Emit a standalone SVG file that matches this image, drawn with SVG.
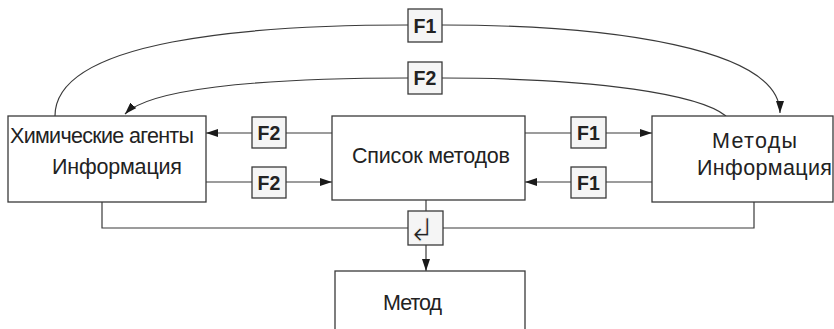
<svg xmlns="http://www.w3.org/2000/svg" width="834" height="329" viewBox="0 0 834 329">
  <style>
    .box { fill: #ffffff; stroke: #3a3a3a; stroke-width: 1.3; }
    .tag { fill: #f5f5f5; stroke: #3a3a3a; stroke-width: 1.3; }
    .line { fill: none; stroke: #3a3a3a; stroke-width: 1.2; }
    .label { font-family: "Liberation Sans", Arial, sans-serif; font-size: 21.5px; fill: #222; }
    .tagtext { font-family: "Liberation Sans", Arial, sans-serif; font-size: 19.5px; font-weight: bold; fill: #222; text-anchor: middle; }
  </style>
  <defs>
    <marker id="arrow" viewBox="0 0 12 8" refX="12" refY="4" markerWidth="12" markerHeight="8" markerUnits="userSpaceOnUse" orient="auto">
      <path d="M0,0 L12,4 L0,8 Z" fill="#1a1a1a"/>
    </marker>
  </defs>

  <rect width="834" height="329" fill="#ffffff"/>

  <!-- connectors -->
  <g id="connectors">
    <!-- top sweep F1: left box to right box -->
    <path class="line" d="M55,116 C55,40 250,25 408,25"/>
    <path class="line" marker-end="url(#arrow)" d="M442,25 C610,25 780,48 780,113"/>
    <!-- top sweep F2: right box to left box -->
    <path class="line" d="M726,116 C700,95 600,78 442,78"/>
    <path class="line" marker-end="url(#arrow)" d="M408,78 C250,78 148,90 125,114"/>

    <!-- middle list to left box (F2) -->
    <path class="line" d="M332,133 H286"/>
    <path class="line" marker-end="url(#arrow)" d="M252,133 H206"/>
    <!-- left box to middle list (F2) -->
    <path class="line" d="M206,182 H252"/>
    <path class="line" marker-end="url(#arrow)" d="M286,182 H332"/>
    <!-- middle list to right box (F1) -->
    <path class="line" d="M525,133 H571"/>
    <path class="line" marker-end="url(#arrow)" d="M606,133 H652"/>
    <!-- right box to middle list (F1) -->
    <path class="line" d="M652,182 H606"/>
    <path class="line" marker-end="url(#arrow)" d="M571,182 H525"/>

    <!-- bottom bus into the merge -->
    <path class="line" d="M102,202 V228 H754 V202"/>
    <path class="line" d="M426,200 V211"/>
    <path class="line" marker-end="url(#arrow)" d="M426,245 V271"/>
  </g>

  <!-- tags on connectors -->
  <g id="tag-f1-top">
    <rect class="tag" x="408" y="9" width="34" height="33"/>
    <text class="tagtext" x="425" y="32.5">F1</text>
  </g>
  <g id="tag-f2-top">
    <rect class="tag" x="408" y="62" width="34" height="32"/>
    <text class="tagtext" x="425" y="85">F2</text>
  </g>
  <g id="tag-f2-upper">
    <rect class="tag" x="252" y="117" width="34" height="31"/>
    <text class="tagtext" x="269" y="139.5">F2</text>
  </g>
  <g id="tag-f2-lower">
    <rect class="tag" x="252" y="167" width="34" height="31"/>
    <text class="tagtext" x="269" y="189.5">F2</text>
  </g>
  <g id="tag-f1-upper">
    <rect class="tag" x="571" y="117" width="35" height="31"/>
    <text class="tagtext" x="588.5" y="139.5">F1</text>
  </g>
  <g id="tag-f1-lower">
    <rect class="tag" x="571" y="167" width="35" height="31"/>
    <text class="tagtext" x="588.5" y="189.5">F1</text>
  </g>
  <g id="merge">
    <rect class="tag" x="408" y="211" width="35" height="34"/>
    <!-- light stroke over the fill thins the glyph -->
    <text x="422" y="241" font-family="'DejaVu Sans', sans-serif" font-size="32" fill="#222" stroke="#f5f5f5" stroke-width="0.9" paint-order="fill" text-anchor="middle">↲</text>
  </g>

  <!-- nodes -->
  <g id="node-agents">
    <rect class="box" x="8" y="116" width="198" height="86"/>
    <text class="label" x="10" y="143" textLength="184">Химические агенты</text>
    <text class="label" x="52" y="174" textLength="130">Информация</text>
  </g>
  <g id="node-list">
    <rect class="box" x="332" y="116" width="193" height="84"/>
    <text class="label" x="352" y="163" textLength="158">Список методов</text>
  </g>
  <g id="node-methods">
    <rect class="box" x="652" y="116" width="181" height="86"/>
    <text class="label" x="712" y="148" textLength="85">Методы</text>
    <text class="label" x="697" y="175" textLength="135">Информация</text>
  </g>
  <g id="node-method">
    <rect class="box" x="335" y="271" width="190" height="80"/>
    <text class="label" x="383" y="310" textLength="59">Метод</text>
  </g>
</svg>
